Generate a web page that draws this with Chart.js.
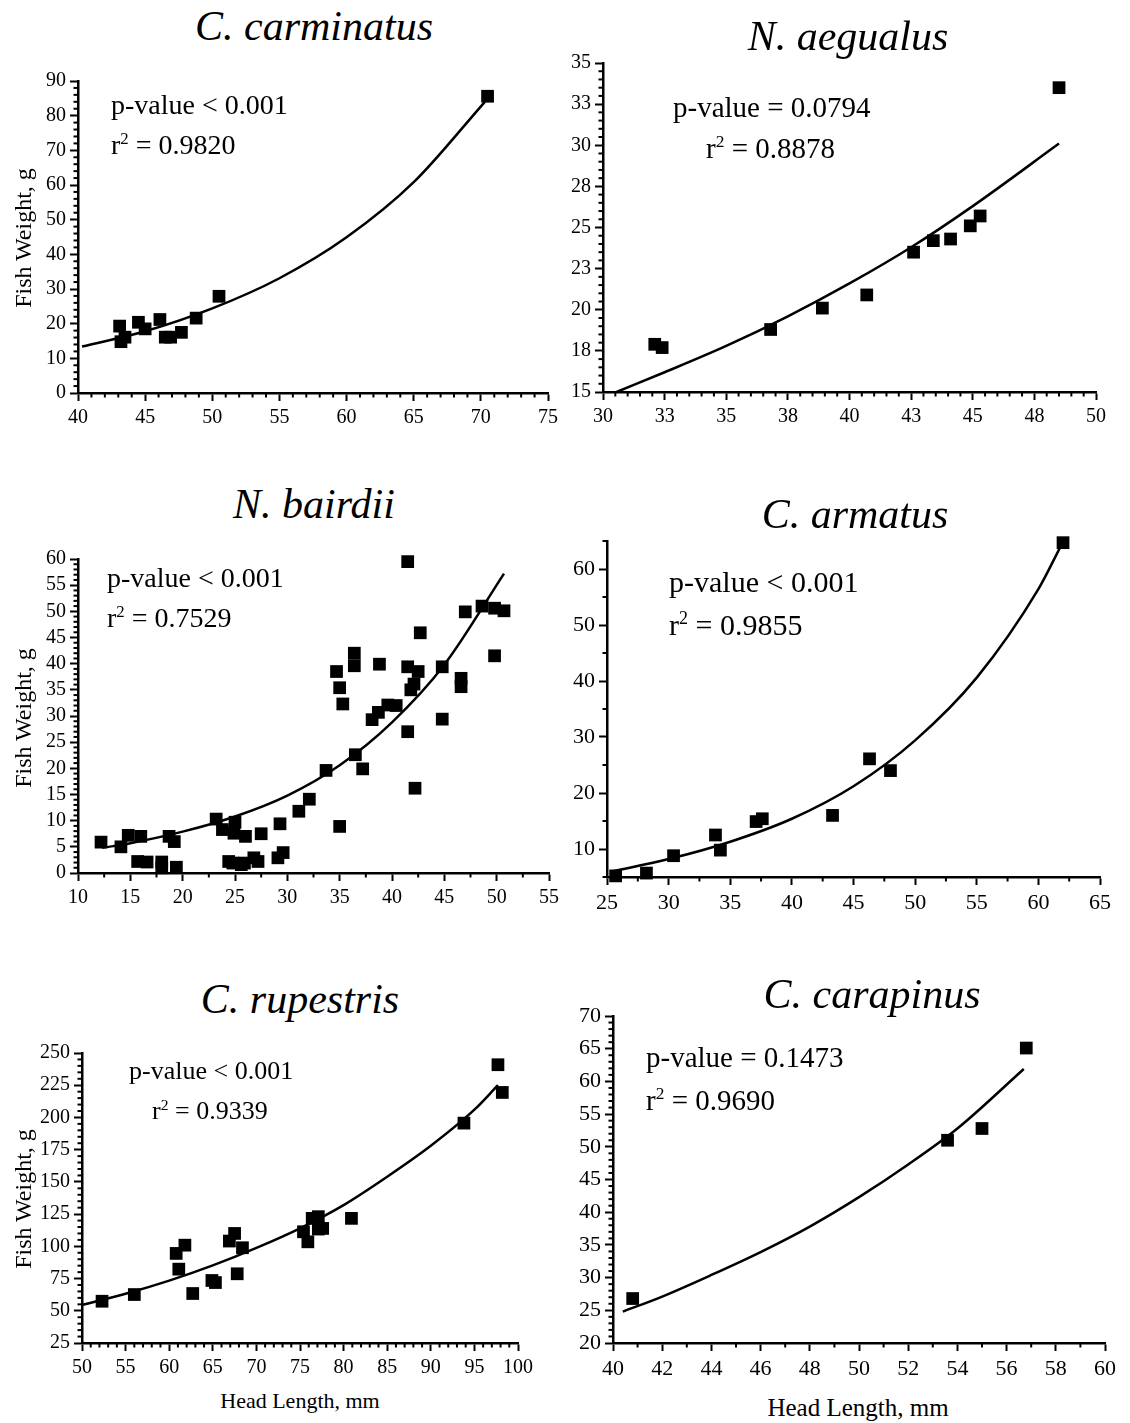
<!DOCTYPE html>
<html>
<head>
<meta charset="utf-8">
<script src="https://cdn.jsdelivr.net/npm/chart.js@4.4.1/dist/chart.umd.min.js"></script>
<style>
  body { margin: 0; width: 1130px; height: 1423px; background: #fff; position: relative; overflow: hidden;
         font-family: "Liberation Serif", "Times New Roman", serif; color: #000; }
  canvas { position: absolute; }
  .t { position: absolute; white-space: nowrap; line-height: 1; }
  .t sup { font-size: 0.6em; vertical-align: baseline; position: relative; top: -0.6em; }
</style>
</head>
<body>
<script>
// ---- C. carminatus ----
const headCarminatus   = [43.1, 43.2, 43.5, 44.5, 45.0, 46.1, 46.5, 46.9, 47.7, 48.8, 50.5, 70.5];
const weightCarminatus = [19.3, 14.8, 16.1, 20.4, 18.5, 21.2, 16.1, 16.1, 17.5, 21.6, 27.9, 85.6];
const fitCarminatusX   = [40.3, 45, 50, 55, 60, 65, 70.3];
const fitCarminatusY   = [13.4, 17.8, 24.4, 33.1, 44.9, 60.8, 84.0];

// ---- N. aegualus ----
const headAegualus   = [32.1, 32.4, 36.8, 38.9, 40.7, 42.6, 43.4, 44.1, 44.9, 45.3, 48.5];
const weightAegualus = [17.9, 17.7, 18.8, 20.1, 20.9, 23.5, 24.2, 24.3, 25.1, 25.7, 33.5];
const fitAegualusX   = [30.55, 32.5, 35, 37.5, 40, 42.5, 45, 48.5];
const fitAegualusY   = [15.0, 16.2, 17.8, 19.6, 21.6, 23.8, 26.3, 30.1];

// ---- N. bairdii ----
const headBairdii = [12.2, 14.1, 14.8, 16.0, 15.7, 16.6, 18.0, 18.0, 18.7, 19.2, 19.4, 23.2, 23.8, 24.4, 24.9,
                     25.0, 24.8, 25.6, 26.0, 25.9, 26.8, 27.2, 27.5, 29.3, 29.1, 29.6, 31.1, 32.1, 33.7, 34.7,
                     35.0, 35.3, 35.0, 36.4, 36.4, 36.5, 37.2, 38.1, 38.7, 38.8, 39.6, 40.4, 41.5, 41.5, 41.5,
                     41.8, 42.1, 42.5, 42.2, 42.7, 44.8, 44.8, 46.6, 46.6, 47.0, 48.6, 49.8, 50.7, 49.8];
const weightBairdii = [5.9, 5.0, 7.2, 7.0, 2.2, 2.1, 2.1, 1.0, 7.0, 6.0, 1.1, 10.3, 8.3, 2.2, 7.6,
                       9.7, 1.9, 1.6, 7.0, 1.9, 2.9, 2.2, 7.5, 9.4, 2.9, 3.9, 11.8, 14.1, 19.6, 38.5,
                       35.4, 32.3, 8.9, 42.0, 39.6, 22.6, 19.9, 29.3, 30.7, 39.9, 32.1, 32.0, 59.5, 39.4, 27.0,
                       35.0, 36.1, 38.5, 16.2, 45.9, 39.4, 29.4, 37.2, 35.6, 49.9, 51.0, 50.6, 50.1, 41.5];
const fitBairdiiX = [12.3, 15, 20, 25, 30, 35, 40, 45, 50.7];
const fitBairdiiY = [4.8, 5.7, 7.9, 10.8, 14.8, 20.6, 28.8, 39.8, 57.2];

// ---- C. armatus ----
const headArmatus   = [25.7, 28.2, 30.4, 33.8, 34.2, 37.1, 37.6, 43.3, 46.3, 48.0, 62.0];
const weightArmatus = [5.2, 5.7, 8.8, 12.5, 9.8, 14.9, 15.4, 16.0, 26.1, 24.0, 64.7];
const fitArmatusX   = [25.4, 30, 35, 40, 45, 50, 55, 60, 61.8];
const fitArmatusY   = [6.0, 8.2, 11.3, 15.4, 21.2, 29.4, 40.6, 56.4, 64.0];

// ---- C. rupestris ----
const headRupestris   = [52.3, 56.0, 60.8, 61.1, 61.8, 62.7, 64.9, 65.3, 66.9, 67.5, 67.8, 68.4, 75.4, 75.9,
                         76.4, 77.1, 77.1, 77.6, 80.9, 93.8, 97.7, 98.2];
const weightRupestris = [57.4, 62.6, 94.5, 82.3, 100.9, 63.4, 73.5, 71.9, 104.1, 110.0, 78.7, 98.9, 111.3, 103.5,
                         121.7, 123.0, 113.4, 113.9, 121.7, 195.6, 240.9, 219.4];
const fitRupestrisX   = [50, 55, 60, 65, 70, 75, 80, 85, 90, 95, 97.7];
const fitRupestrisY   = [54.5, 63.2, 73.4, 85.2, 98.8, 114, 132, 154, 178, 206, 225];

// ---- C. carapinus ----
const headCarapinus   = [40.8, 53.6, 55.0, 56.8];
const weightCarapinus = [26.8, 51.0, 52.8, 65.1];
const fitCarapinusX   = [40.4, 42, 44, 46, 48, 50, 52, 54, 56.7];
const fitCarapinusY   = [24.8, 27.1, 30.4, 33.9, 37.8, 42.3, 47.3, 52.8, 61.9];

const FONT = '"Liberation Serif", "Times New Roman", serif';

// pairs x/y arrays into {x, y} points
const pts = (xs, ys) => xs.map((x, i) => ({ x, y: ys[i] }));

// short minor ticks between the labelled ones
const minorTicks = {
  id: 'minorTicks',
  afterDraw(chart, args, opts) {
    const { ctx, chartArea } = chart;
    ctx.save();
    ctx.strokeStyle = '#000';
    ctx.lineWidth = 2;
    ['x', 'y'].forEach(key => {
      const s = chart.scales[key];
      const step = opts[key];
      const majors = s.ticks.map(t => t.value);
      const n = Math.round((s.max - s.min) / step);
      for (let i = 0; i <= n; i++) {
        const v = s.min + i * step;
        if (majors.some(m => Math.abs(m - v) < 1e-6)) continue;
        const p = s.getPixelForValue(v);
        ctx.beginPath();
        if (key === 'x') { ctx.moveTo(p, chartArea.bottom); ctx.lineTo(p, chartArea.bottom + 4.5); }
        else { ctx.moveTo(chartArea.left, p); ctx.lineTo(chartArea.left - 4.5, p); }
        ctx.stroke();
      }
    });
    ctx.restore();
  }
};

function axis(min, max, step, fontSize, fit) {
  return {
    type: 'linear', min, max,
    afterFit: fit,
    // labelled ticks sit on multiples of the step, not on the axis ends
    afterBuildTicks: s => {
      const out = [];
      const n0 = Math.ceil(min / step - 1e-9), n1 = Math.floor(max / step + 1e-9);
      for (let k = n0; k <= n1; k++) out.push({ value: +(k * step).toFixed(6) });
      s.ticks = out;
    },
    ticks: { color: '#000', font: { family: FONT, size: fontSize }, padding: 4,
             autoSkip: false, maxRotation: 0, callback: v => v },
    grid: { display: true, drawOnChartArea: false, drawTicks: true, tickLength: 8, tickWidth: 2, tickColor: '#000' },
    border: { display: true, color: '#000', width: 2.5 }
  };
}

function panel(cfg) {
  const [L, T, R, B] = cfg.area;
  const yW = 70, xH = 42, padTop = 20, padRight = 30;
  const w = R - L + yW + padRight, h = B - T + padTop + xH;
  const c = document.createElement('canvas');
  c.width = w; c.height = h;
  c.style.width = w + 'px'; c.style.height = h + 'px';
  c.style.left = (L - yW) + 'px'; c.style.top = (T - padTop) + 'px';
  document.body.appendChild(c);

  const x = axis(cfg.x[0], cfg.x[1], cfg.x[2], cfg.font, s => { s.height = xH; });
  x.ticks.padding = 5;
  const y = axis(cfg.y[0], cfg.y[1], cfg.y[2], cfg.font, s => { s.width = yW; });
  if (cfg.round) {
    x.ticks.callback = v => Math.round(v);
    y.ticks.callback = v => Math.round(v);
  }

  new Chart(c, {
    type: 'scatter',
    data: {
      datasets: [
        { data: pts(cfg.fitX, cfg.fitY), showLine: true, borderColor: '#000', borderWidth: 2.5,
          pointRadius: 0, cubicInterpolationMode: 'monotone', clip: false },
        { data: pts(cfg.xs, cfg.ys), pointStyle: 'rect', pointRadius: 9, backgroundColor: '#000',
          borderWidth: 0, clip: false }
      ]
    },
    options: {
      responsive: false, animation: false,
      layout: { padding: { top: padTop, right: padRight, left: 0, bottom: 0 } },
      plugins: { legend: { display: false }, tooltip: { enabled: false },
                 minorTicks: { x: cfg.x[3], y: cfg.y[3] } },
      scales: { x, y }
    },
    plugins: [minorTicks]
  });
}

// text placed by its baseline
function text(html, x, base, size, align, style) {
  const d = document.createElement('div');
  d.className = 't';
  d.innerHTML = html;
  d.style.fontSize = size + 'px';
  d.style.top = (base - 0.84 * size) + 'px';
  d.style.left = x + 'px';
  if (align === 'center') d.style.transform = 'translateX(-50%)';
  if (style) Object.assign(d.style, style);
  document.body.appendChild(d);
}

function yTitle(cx, cy) {
  const d = document.createElement('div');
  d.className = 't';
  d.textContent = 'Fish Weight, g';
  d.style.fontSize = '24px';
  d.style.left = cx + 'px';
  d.style.top = cy + 'px';
  d.style.transform = 'translate(-50%, -50%) rotate(-90deg)';
  document.body.appendChild(d);
}

const italic = { fontStyle: 'italic' };

panel({ area: [78, 81, 548, 393], x: [40, 75, 5, 1], y: [0, 90, 10, 2], font: 20,
        xs: headCarminatus, ys: weightCarminatus, fitX: fitCarminatusX, fitY: fitCarminatusY });
panel({ area: [603, 63, 1096, 392], x: [30, 50, 2.5, 0.5], y: [15, 35, 2.5, 0.5], font: 20, round: true,
        xs: headAegualus, ys: weightAegualus, fitX: fitAegualusX, fitY: fitAegualusY });
panel({ area: [78, 559, 549, 873], x: [10, 55, 5, 2.5], y: [0, 60, 5, 1], font: 20,
        xs: headBairdii, ys: weightBairdii, fitX: fitBairdiiX, fitY: fitBairdiiY });
panel({ area: [607, 541, 1100, 877], x: [25, 65, 5, 2.5], y: [5, 65, 10, 5], font: 22,
        xs: headArmatus, ys: weightArmatus, fitX: fitArmatusX, fitY: fitArmatusY });
panel({ area: [82, 1053, 518, 1343], x: [50, 100, 5, 1], y: [25, 250, 25, 5], font: 20,
        xs: headRupestris, ys: weightRupestris, fitX: fitRupestrisX, fitY: fitRupestrisY });
panel({ area: [613, 1016, 1105, 1343], x: [40, 60, 2, 1], y: [20, 70, 5, 1], font: 22,
        xs: headCarapinus, ys: weightCarapinus, fitX: fitCarapinusX, fitY: fitCarapinusY });

// panel titles
text('C. carminatus', 314, 40, 42, 'center', italic);
text('N. aegualus', 848, 50, 42, 'center', italic);
text('N. bairdii', 314, 518, 42, 'center', italic);
text('C. armatus', 855, 528, 42, 'center', italic);
text('C. rupestris', 300, 1013, 42, 'center', italic);
text('C. carapinus', 872, 1008, 42, 'center', italic);

// fit statistics
text('p-value &lt; 0.001', 111, 115, 28);
text('r<sup>2</sup> = 0.9820', 111, 155, 28);
text('p-value = 0.0794', 673, 117, 29);
text('r<sup>2</sup> = 0.8878', 706, 158, 29);
text('p-value &lt; 0.001', 107, 588, 28);
text('r<sup>2</sup> = 0.7529', 107, 628, 28);
text('p-value &lt; 0.001', 669, 592, 30);
text('r<sup>2</sup> = 0.9855', 669, 635, 30);
text('p-value &lt; 0.001', 129, 1080, 26);
text('r<sup>2</sup> = 0.9339', 152, 1120, 26);
text('p-value = 0.1473', 646, 1067, 29);
text('r<sup>2</sup> = 0.9690', 646, 1110, 29);

// axis titles
yTitle(23, 238);
yTitle(23, 718);
yTitle(23, 1199);
text('Head Length, mm', 300, 1408, 22, 'center');
text('Head Length, mm', 858, 1416, 25, 'center');
</script>
</body>
</html>
